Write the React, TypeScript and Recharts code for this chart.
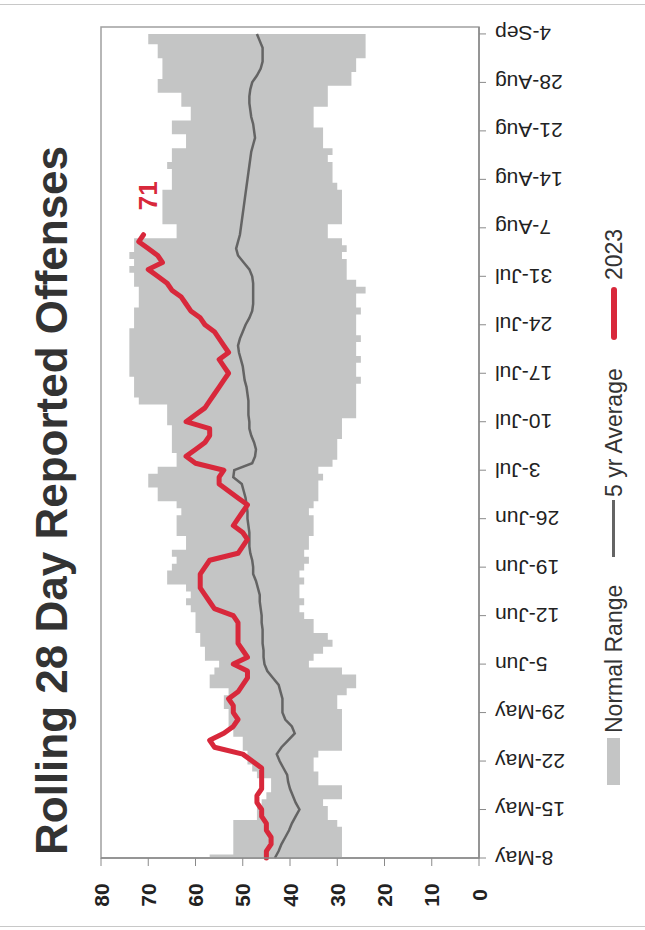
import React from "react";
import { ComposedChart, Area, Line, XAxis, YAxis, ReferenceArea } from "recharts";

// day 0 = 8-May, one point per day
const tickDays = [0, 7, 14, 21, 28, 35, 42, 49, 56, 63, 70, 77, 84, 91, 98, 105, 112, 119];
const tickLabels = [
  "8-May", "15-May", "22-May", "29-May", "5-Jun", "12-Jun", "19-Jun", "26-Jun", "3-Jul",
  "10-Jul", "17-Jul", "24-Jul", "31-Jul", "7-Aug", "14-Aug", "21-Aug", "28-Aug", "4-Sep",
];
const valueTicks = [0, 10, 20, 30, 40, 50, 60, 70, 80];

const rangeHigh = [
  57, 52, 52, 52, 52, 52, 47, 47, 46, 45,
  44, 44, 47, 48, 49, 49, 50, 50, 52, 53,
  53, 53, 54, 54, 53, 57, 57, 56, 55, 58,
  58, 59, 59, 60, 60, 60, 61, 62, 61, 62,
  66, 66, 65, 64, 65, 62, 62, 64, 64, 64,
  63, 64, 68, 68, 70, 70, 68, 64, 64, 65,
  65, 65, 65, 66, 66, 66, 72, 73, 73, 73,
  74, 74, 74, 74, 74, 74, 74, 73, 73, 73,
  72, 72, 72, 73, 73, 74, 73, 74, 73, 73,
  64, 64, 67, 67, 67, 67, 67, 65, 65, 65,
  66, 65, 65, 62, 62, 65, 65, 61, 61, 63,
  63, 68, 68, 67, 67, 67, 68, 68, 70, 70,
];

const rangeLow = [
  29, 29, 29, 29, 29, 30, 32, 32, 33, 29,
  29, 34, 34, 35, 35, 34, 29, 29, 29, 29,
  29, 29, 30, 30, 28, 26, 26, 29, 36, 35,
  33, 31, 32, 35, 35, 37, 38, 37, 38, 38,
  37, 38, 37, 36, 37, 36, 36, 35, 35, 35,
  36, 35, 34, 34, 34, 33, 34, 31, 30, 30,
  30, 29, 29, 29, 26, 26, 26, 26, 26, 25,
  26, 26, 25, 26, 26, 25, 26, 26, 26, 25,
  26, 26, 24, 26, 28, 28, 28, 29, 28, 29,
  32, 32, 29, 29, 29, 29, 29, 30, 31, 31,
  31, 32, 31, 33, 33, 33, 35, 35, 35, 32,
  32, 32, 27, 27, 26, 26, 24, 24, 24, 24,
];

const avg5yr = [
  43.2, 42.4, 41.8, 41.0, 40.2, 39.6, 38.8, 38.0, 38.8, 39.4,
  40.0, 40.4, 40.6, 41.4, 42.2, 42.8, 41.8, 40.4, 39.0, 39.6,
  41.0, 41.6, 41.6, 41.6, 42.0, 42.4, 43.6, 44.8, 45.4, 45.6,
  45.6, 45.8, 45.8, 45.8, 46.0, 46.0, 46.2, 46.4, 46.4, 46.8,
  47.2, 47.8, 47.8, 48.0, 48.4, 48.6, 48.6, 48.6, 48.8, 49.0,
  49.0, 49.2, 49.4, 49.8, 50.2, 52.0, 51.8, 48.0, 47.4, 47.2,
  47.6, 48.2, 48.6, 48.6, 48.8, 48.8, 48.8, 49.0, 49.2, 49.6,
  49.8, 50.0, 50.4, 50.8, 51.0, 50.6, 50.0, 49.4, 48.6, 48.0,
  47.8, 47.8, 47.8, 47.8, 48.0, 48.6, 49.8, 51.0, 51.4, 51.0,
  50.6, 50.4, 50.2, 50.0, 49.8, 49.6, 49.4, 49.2, 49.0, 48.8,
  48.6, 48.4, 48.2, 47.8, 47.4, 47.6, 47.8, 48.2, 48.4, 48.6,
  48.6, 48.4, 48.0, 47.0, 46.2, 45.8, 45.8, 45.8, 46.4, 47.0,
];

const y2023 = [
  45, 45, 44, 44, 45, 45, 46, 46, 47, 47,
  46, 46, 46, 46, 48, 50, 56, 57, 54, 52,
  51, 52, 52, 53, 51, 50, 49, 49, 52, 49,
  50, 51, 51, 51, 51, 52, 56, 57, 58, 59,
  59, 59, 58, 57, 51, 50, 49, 50, 52, 51,
  50, 49, 51, 53, 55, 55, 54, 60, 62, 60,
  58, 57, 57, 62, 60, 58, 57, 56, 55, 54,
  53, 54, 55, 53, 54, 55, 56, 58, 59, 61,
  62, 63, 65, 66, 68, 70, 67, 68, 70, 72,
  71,
];

const data = rangeHigh.map((hi, day) => ({
  day,
  range: [rangeLow[day], hi],
  avg: avg5yr[day],
  cur: day < y2023.length ? y2023[day] : null,
}));

const FONT = "'Liberation Sans', Arial, sans-serif";
const RED = "#d8283b";
const GREY_BAND = "#c4c5c5";
const GREY_LINE = "#646464";

function DateTick({ x, y, payload }: any) {
  const i = tickDays.indexOf(payload.value);
  return (
    <text
      x={x}
      y={y}
      transform={`rotate(-90, ${x}, ${y})`}
      textAnchor="end"
      dominantBaseline="central"
      fontSize={21}
      fontFamily={FONT}
      fill="#222"
    >
      {tickLabels[i]}
    </text>
  );
}

function ValueTick({ x, y, payload }: any) {
  return (
    <text x={x - 27} y={y} textAnchor="middle" dominantBaseline="central" fontSize={21} fontFamily={FONT} fontWeight="bold" fill="#222">
      {payload.value}
    </text>
  );
}

function LastLabel({ x, y, index, value }: any) {
  if (index !== y2023.length - 1) return null;
  return (
    <text x={x + 39} y={y + 4} textAnchor="middle" dominantBaseline="central" fontSize={26} fontWeight="bold" fontFamily={FONT} fill={RED}>
      {value}
    </text>
  );
}

export default function App() {
  return (
    <div
      style={{
        position: "absolute",
        left: 0,
        top: 0,
        width: 645,
        height: 930,
        overflow: "hidden",
        background: "#fff",
      }}
    >
      <div style={{ position: "absolute", left: 0, top: 4, width: 645, height: 921, borderTop: "1px solid #c8c8c8", borderBottom: "1px solid #c8c8c8" }} />
      {/* chart is laid out landscape, then turned a quarter left like the scanned page */}
      <div
        style={{
          position: "absolute",
          left: 0,
          top: 0,
          width: 930,
          height: 645,
          transformOrigin: "0 0",
          transform: "rotate(-90deg) translate(-930px, 0)",
        }}
      >
        <div
          style={{
            position: "absolute",
            left: 75,
            top: 29,
            whiteSpace: "nowrap",
            fontFamily: FONT,
            fontWeight: "bold",
            fontSize: 44,
            lineHeight: "46px",
            color: "#333",
          }}
        >
          Rolling 28 Day Reported Offenses
        </div>
        <ComposedChart width={930} height={645} data={data} margin={{ top: 101, right: 27, bottom: 76, left: 32 }}>
          <ReferenceArea x1={0} x2={120} y1={0} y2={80} fill="none" stroke="#a0a0a0" strokeWidth={1.5} ifOverflow="visible" />
          <XAxis
            dataKey="day"
            type="number"
            domain={[0, 120]}
            ticks={tickDays}
            interval={0}
            height={90}
            tickSize={7}
            tickMargin={9}
            tick={<DateTick />}
            axisLine={{ stroke: "#8a8a8a", strokeWidth: 1.5 }}
            tickLine={{ stroke: "#8a8a8a" }}
          />
          <YAxis
            type="number"
            domain={[0, 80]}
            ticks={valueTicks}
            interval={0}
            width={40}
            tickSize={8}
            tick={<ValueTick />}
            axisLine={{ stroke: "#8a8a8a", strokeWidth: 1.5 }}
            tickLine={{ stroke: "#8a8a8a" }}
          />
          <Area
            dataKey="range"
            type="step"
            fill={GREY_BAND}
            fillOpacity={1}
            stroke="none"
            isAnimationActive={false}
            activeDot={false}
          />
          <Line
            dataKey="avg"
            type="linear"
            stroke={GREY_LINE}
            strokeWidth={2.5}
            dot={false}
            activeDot={false}
            isAnimationActive={false}
          />
          <Line
            dataKey="cur"
            type="linear"
            stroke={RED}
            strokeWidth={5}
            strokeLinejoin="round"
            strokeLinecap="round"
            dot={false}
            activeDot={false}
            label={<LastLabel />}
            isAnimationActive={false}
          />
        </ComposedChart>
        <div style={{ position: "absolute", left: 0, top: 0, fontFamily: FONT, fontSize: 23, color: "#333" }}>
          <div style={{ position: "absolute", left: 145, top: 607, width: 47, height: 13, background: GREY_BAND }} />
          <span style={{ position: "absolute", left: 197, top: 601, whiteSpace: "nowrap" }}>Normal Range</span>
          <div style={{ position: "absolute", left: 373, top: 612, width: 57, height: 3, background: GREY_LINE }} />
          <span style={{ position: "absolute", left: 433, top: 601, whiteSpace: "nowrap" }}>5 yr Average</span>
          <div style={{ position: "absolute", left: 590, top: 611, width: 53, height: 6, background: RED, borderRadius: 3 }} />
          <span style={{ position: "absolute", left: 650, top: 601, whiteSpace: "nowrap" }}>2023</span>
        </div>
      </div>
    </div>
  );
}
